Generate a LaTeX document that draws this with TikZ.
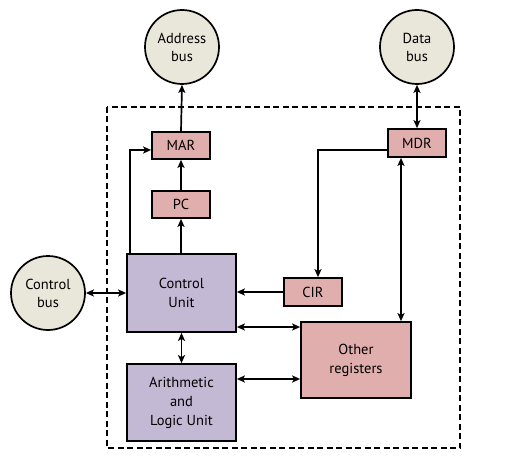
\documentclass[tikz,border=0pt]{standalone}
\usepackage{fontspec}
\setmainfont{PT Sans}
\usetikzlibrary{arrows.meta}
\definecolor{busfill}{RGB}{233,230,218}
\definecolor{regfill}{RGB}{225,174,174}
\definecolor{unitfill}{RGB}{196,185,213}
\tikzset{
  bus/.style={circle, draw, line width=1.7pt, fill=busfill, minimum size=74pt, inner sep=0pt, align=center, font=\fontsize{14.5}{18}\selectfont},
  reg/.style={rectangle, draw, line width=1.7pt, fill=regfill, inner sep=0pt, align=center, font=\fontsize{14.5}{19}\selectfont},
  unitbox/.style={rectangle, draw, line width=1.7pt, fill=unitfill, inner sep=0pt, align=center, font=\fontsize{14.5}{19}\selectfont},
  conn/.style={line width=1.7pt, -{Stealth[length=8pt,width=7pt,inset=1.8pt]}},
  bconn/.style={line width=1.7pt, {Stealth[length=8pt,width=7pt,inset=1.8pt]}-{Stealth[length=8pt,width=7pt,inset=1.8pt]}},
  frame/.style={line width=2.2pt, dash pattern=on 6pt off 3.5pt}
}
\begin{document}
\begin{tikzpicture}[x=1pt,y=-1pt]
\useasboundingbox (0,0) rectangle (508,462);
\draw[frame] (107,107) rectangle (460,448);
\node[bus] (ab) at (182,47) {Address\\bus};
\node[bus] (db) at (417,47) {Data\\bus};
\node[bus] (cb) at (48,293) {Control\\bus};
\node[reg, minimum width=58pt, minimum height=27pt] (mar) at (181,145.5) {MAR};
\node[reg, minimum width=58pt, minimum height=27pt] (pc) at (181,204.5) {PC};
\node[reg, minimum width=58pt, minimum height=28pt] (mdr) at (417,143) {MDR};
\node[reg, minimum width=58pt, minimum height=28pt] (cir) at (313,292) {CIR};
\node[reg, minimum width=110pt, minimum height=76pt] (oreg) at (356,360) {Other\\registers};
\node[unitbox, minimum width=109pt, minimum height=78pt] (cu) at (181.5,293) {Control\\Unit};
\node[unitbox, minimum width=109pt, minimum height=77pt] (alu) at (181.5,402.5) {Arithmetic\\and\\Logic Unit};
\draw[conn] (mar.north) -- (ab.south);
\draw[conn] (pc.north) -- (mar.south);
\draw[conn] (cu.north -| pc.south) -- (pc.south);
\draw[conn] ([xshift=4pt]cu.north west) |- ([yshift=-4.5pt]mar.west);
\draw[bconn] (db.south) -- (mdr.north);
\draw[conn] ([yshift=-7pt]mdr.west) -| ([xshift=5pt]cir.north);
\draw[bconn] ([xshift=-16pt]mdr.south) -- ([xshift=-16pt]mdr.south |- oreg.north);
\draw[conn] (cir.west) -- (cir.west -| cu.east);
\draw[bconn] ([yshift=-34pt]cu.east) -- ([yshift=-34pt]cu.east -| oreg.west);
\draw[bconn] ([yshift=23.5pt]alu.east) -- ([yshift=23.5pt]alu.east -| oreg.west);
\draw[bconn] (cu.south) -- (alu.north);
\draw[bconn] (cb.east) -- (cb.east -| cu.west);
\end{tikzpicture}
\end{document}
